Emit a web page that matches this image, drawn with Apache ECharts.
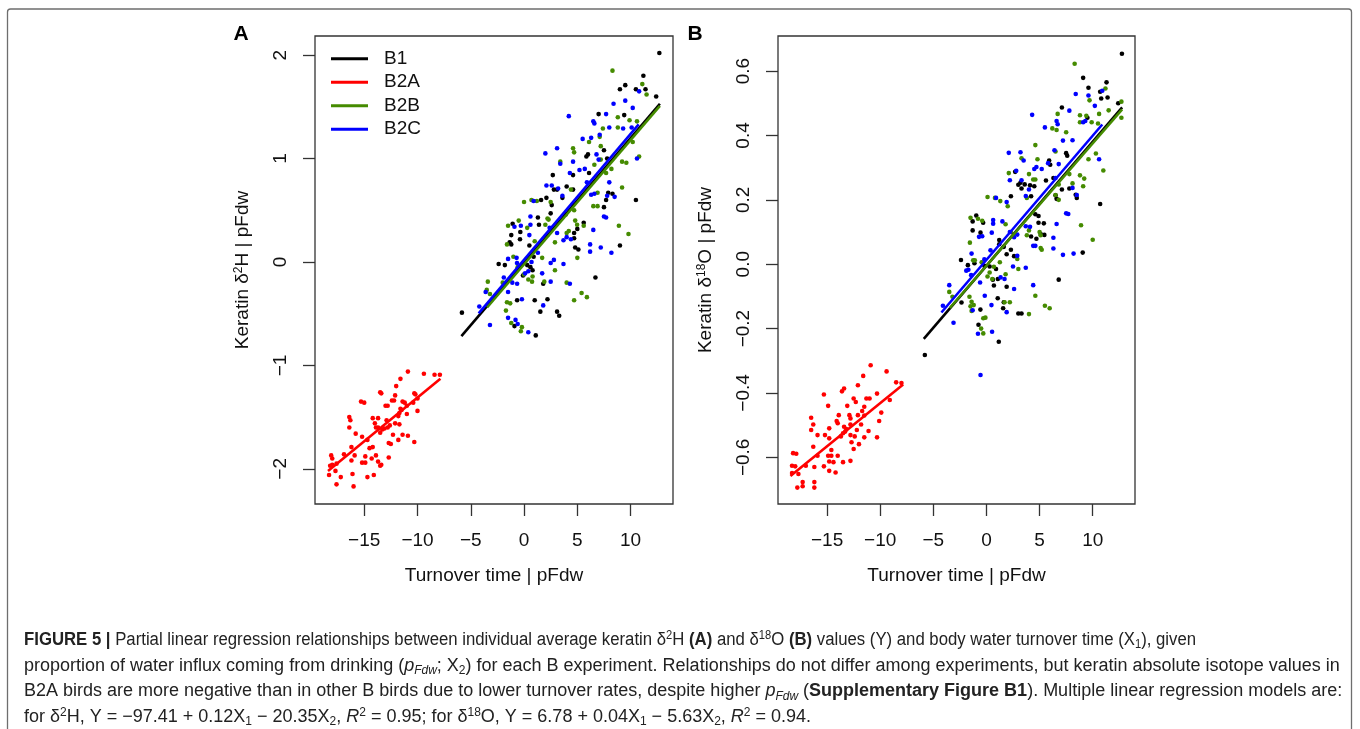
<!DOCTYPE html>
<html>
<head>
<meta charset="utf-8">
<script src="https://cdn.jsdelivr.net/npm/echarts@6/dist/echarts.min.js"></script>
<style>
html,body{margin:0;padding:0;background:#fff;}
#chart{width:1360px;height:729px;}
</style>
</head>
<body>
<div id="chart"></div>
<script>
// ---------------- DATA ----------------
const GROUPS = ['B1', 'B2A', 'B2B', 'B2C'];
const X_TICKS = [-15, -10, -5, 0, 5, 10];
const A_Y_TICKS = [-2, -1, 0, 1, 2];
const B_Y_TICKS = [-0.6, -0.4, -0.2, 0, 0.2, 0.4, 0.6];
const X_RANGE = [-19.62, 13.98];
const A_Y_RANGE = [-2.34, 2.185];
const B_Y_RANGE = [-0.745, 0.709];

// Panel A: keratin d2H | pFdw vs turnover time | pFdw
const a_B1 = [[12.7,2.02],[11.2,1.80],[9.5,1.71],[9.0,1.67],[10.5,1.67],[11.4,1.67],[12.4,1.60],[9.4,1.42],[7.0,1.43],[6.0,1.04],[5.85,1.02],[7.5,1.08],[2.7,0.84],[2.8,0.70],[4.0,0.73],[4.6,0.70],[4.6,0.84],[6.1,0.86],[7.8,1.00],[7.9,0.67],[8.3,0.66],[10.5,0.60],[3.6,0.62],[3.1,0.70],
  [-5.83,-0.49],[-2.38,-0.02],[-1.07,0.37],[-1.2,0.26],[-1.35,0.19],[-1.2,0.17],[-0.35,0.29],[-0.38,0.22],[0.5,0.16],[1.3,0.43],[1.4,0.36],[0.6,-0.05],[0.8,-0.08],[-0.65,-0.37],[1.0,-0.37],[2.2,-0.36],[1.53,-0.48],[3.1,-0.48],[3.3,-0.52],[1.1,-0.71],[-0.9,-0.62],[6.7,-0.15],[9.0,0.16],[4.8,0.14],[5.1,0.12],[4.7,0.28],[4.7,0.23],[5.6,0.38],[7.5,0.53],[1.6,0.60],[2.1,0.62],[2.6,0.55],[4.6,0.55],[-1.8,-0.03],[0.3,-0.03],[0.9,0.05],[-0.1,-0.13],[1.8,-0.21],[3.9,0.46],[2.5,0.47],[5.0,0.32],[7.7,0.60]];
const a_B2A = [[-10.9,-1.06],[-9.4,-1.08],[-8.4,-1.09],[-7.9,-1.09],[-11.6,-1.13],[-12.0,-1.20],[-10.3,-1.27],[-13.5,-1.26],[-13.4,-1.27],[-15.3,-1.35],[-15.0,-1.36],[-12.4,-1.34],[-12.2,-1.34],[-12.1,-1.29],[-11.4,-1.35],[-11.2,-1.36],[-13.0,-1.39],[-12.8,-1.39],[-11.0,-1.39],[-10.4,-1.36],[-10.0,-1.32],[-10.2,-1.28],[-11.6,-1.42],[-11.5,-1.43],[-11.7,-1.46],[-11.8,-1.49],[-11.0,-1.47],[-10.0,-1.44],[-16.4,-1.50],[-16.3,-1.53],[-16.4,-1.60],[-14.2,-1.51],[-13.7,-1.51],[-14.0,-1.56],[-13.9,-1.60],[-13.7,-1.60],[-13.3,-1.62],[-13.1,-1.61],[-12.8,-1.60],[-12.6,-1.58],[-12.9,-1.53],[-12.1,-1.56],[-11.7,-1.57],[-13.5,-1.65],[-11.4,-1.67],[-10.9,-1.68],[-12.3,-1.67],[-12.7,-1.75],[-12.5,-1.76],[-11.8,-1.72],[-10.3,-1.74],[-15.8,-1.66],[-15.2,-1.69],[-14.7,-1.72],[-14.5,-1.80],[-14.2,-1.79],[-16.2,-1.79],[-16.9,-1.86],[-15.9,-1.87],[-14.9,-1.88],[-13.9,-1.87],[-12.7,-1.89],[-14.3,-1.90],[-18.1,-1.87],[-18.0,-1.90],[-18.2,-1.97],[-18.0,-1.96],[-17.6,-1.95],[-15.2,-1.94],[-14.9,-1.94],[-13.7,-1.93],[-13.5,-1.97],[-13.4,-1.96],[-16.2,-1.92],[-17.7,-2.02],[-17.2,-2.08],[-18.3,-2.06],[-16.1,-2.05],[-14.7,-2.08],[-14.1,-2.06],[-17.6,-2.15],[-16.0,-2.17]];
const a_B2B = [[8.3,1.85],[11.1,1.72],[11.5,1.62],[10.6,1.36],[9.9,1.37],[8.8,1.40],[8.8,1.30],[7.4,1.29],[7.1,1.21],[6.1,1.16],[7.2,1.12],[10.2,1.16],[10.8,1.02],[9.2,0.97],[9.6,0.96],[4.6,1.10],[4.7,1.06],[6.6,0.94],[7.2,0.99],[3.4,0.97],[9.2,0.72],[6.9,0.67],[0.0,0.58],[0.7,0.60],[1.2,0.59],[2.5,0.58],[4.4,0.70],[7.7,0.86],[8.2,0.90],
  [-3.4,-0.19],[-3.5,-0.27],[-3.2,-0.31],[-1.6,-0.39],[-1.3,-0.40],[-1.7,-0.47],[-1.2,-0.59],[-0.2,-0.63],[-0.3,-0.67],[-1.0,0.05],[-1.5,0.35],[-1.6,0.17],[-0.5,0.40],[0.75,-0.19],[0.8,-0.14],[0.4,-0.17],[1.7,0.04],[1.9,-0.19],[2.9,-0.08],[4.0,-0.20],[4.7,-0.37],[5.4,-0.30],[5.9,-0.34],[5.0,0.04],[2.2,0.42],[2.3,0.41],[2.0,0.36],[2.9,0.19],[4.0,0.28],[4.2,0.30],[4.7,0.50],[4.8,0.40],[4.98,0.36],[5.6,0.35],[6.5,0.54],[6.9,0.54],[8.9,0.35],[9.8,0.27],[-0.6,-0.05],[0.0,-0.12],[-2.0,-0.20],[0.3,0.33],[1.0,0.20]];
const a_B2C = [[10.8,1.65],[8.4,1.53],[9.5,1.56],[10.2,1.49],[7.7,1.43],[6.5,1.36],[6.6,1.34],[4.2,1.41],[8.0,1.30],[9.3,1.29],[10.1,1.30],[7.1,1.23],[6.3,1.20],[5.5,1.19],[6.8,1.04],[3.1,1.10],[2.0,1.05],[3.4,0.95],[4.6,0.97],[4.3,0.86],[5.2,0.89],[5.7,0.90],[2.6,0.74],[2.1,0.74],[3.2,0.71],[3.6,0.64],[6.3,0.65],[6.6,0.66],[7.8,0.64],[8.5,0.63],[10.6,1.00],[8.0,0.77],[5.9,0.77],[7.0,0.99],[0.9,0.59],
  [-4.2,-0.43],[-3.6,-0.29],[-3.2,-0.61],[-1.9,-0.15],[-1.5,0.03],[-0.7,0.04],[-0.66,-0.01],[-1.1,-0.20],[-1.5,-0.29],[-1.5,-0.54],[-0.8,-0.56],[-0.6,-0.60],[0.4,-0.68],[-0.2,-0.36],[-0.65,-0.21],[0.1,-0.11],[0.4,-0.09],[0.7,0.00],[-0.3,0.35],[-0.9,0.34],[0.6,0.36],[0.6,0.44],[0.5,0.26],[1.3,0.09],[1.7,-0.11],[1.8,-0.42],[2.5,-0.19],[2.5,-0.01],[2.8,0.02],[3.1,0.28],[3.7,-0.02],[4.3,-0.21],[3.7,0.21],[4.0,0.24],[4.4,0.22],[2.2,0.26],[2.4,0.33],[6.2,0.17],[6.2,0.10],[7.2,0.14],[8.2,0.09],[7.5,0.44],[7.7,0.43],[6.5,0.31]];
// regression segments [x1, y1, x2, y2]
const a_fit_B1 = [-5.88, -0.717, 12.75, 1.53];
const a_fit_B2A = [-18.4, -2.02, -7.85, -1.13];
const a_fit_B2B = [-3.47, -0.44, 12.75, 1.51];
const a_fit_B2C = [-4.26, -0.497, 10.76, 1.33];

// Panel B: keratin d18O | pFdw vs turnover time | pFdw
const b_B1 = [[12.75,0.654],[9.1,0.579],[11.3,0.565],[9.6,0.548],[10.7,0.536],[10.8,0.515],[11.4,0.518],[12.4,0.500],[7.1,0.487],[9.5,0.455],[7.5,0.345],[7.6,0.337],[5.9,0.322],[6.0,0.309],[2.7,0.287],[3.2,0.253],[3.0,0.247],[3.6,0.248],[3.3,0.235],[4.1,0.245],[4.5,0.242],[5.6,0.260],[6.3,0.268],[7.1,0.232],[7.8,0.235],[8.4,0.216],[8.5,0.206],[10.7,0.187],[2.3,0.211],[4.2,0.211],[6.5,0.214],[6.6,0.203],
  [-0.96,0.151],[-1.3,0.133],[-0.31,0.129],[-1.3,0.105],[-0.56,0.098],[1.2,0.075],[1.2,0.062],[1.63,0.054],[1.9,0.031],[2.3,0.045],[2.6,0.025],[-2.4,0.013],[-1.75,-0.003],[-1.13,0.003],[0.3,-0.007],[0.9,-0.015],[-0.2,-0.005],[1.07,-0.046],[0.6,-0.048],[0.7,-0.066],[-0.57,-0.141],[1.06,-0.106],[1.63,-0.118],[1.57,-0.137],[1.9,-0.070],[3.0,-0.153],[3.3,-0.153],[-0.75,-0.188],[-2.35,-0.119],[6.8,-0.048],[9.06,0.036],[4.9,0.129],[4.6,0.155],[4.9,0.150],[5.4,0.127],[5.45,0.091],[5.1,0.094],[4.2,0.086],[4.7,0.079],[-5.8,-0.282],[1.16,-0.241]];
const b_B2A = [[-10.9,-0.314],[-9.4,-0.333],[-11.6,-0.347],[-8.5,-0.367],[-8.0,-0.369],[-13.4,-0.386],[-13.6,-0.395],[-12.1,-0.376],[-15.3,-0.405],[-11.3,-0.417],[-11.0,-0.417],[-12.5,-0.417],[-12.3,-0.428],[-10.3,-0.402],[-9.1,-0.422],[-13.1,-0.440],[-14.9,-0.440],[-13.9,-0.469],[-11.5,-0.443],[-11.7,-0.456],[-12.1,-0.469],[-9.9,-0.461],[-10.1,-0.487],[-14.1,-0.487],[-14.0,-0.494],[-12.9,-0.469],[-12.8,-0.479],[-16.5,-0.477],[-16.3,-0.498],[-16.5,-0.515],[-14.8,-0.510],[-13.4,-0.505],[-13.3,-0.520],[-13.2,-0.512],[-13.5,-0.525],[-13.7,-0.535],[-12.8,-0.498],[-12.8,-0.531],[-12.7,-0.553],[-12.4,-0.535],[-12.5,-0.574],[-12.2,-0.515],[-11.8,-0.498],[-11.5,-0.470],[-11.1,-0.518],[-11.5,-0.538],[-12.0,-0.559],[-10.3,-0.538],[-15.9,-0.531],[-15.2,-0.531],[-14.8,-0.541],[-14.6,-0.577],[-16.3,-0.567],[-15.9,-0.595],[-14.9,-0.595],[-14.6,-0.595],[-14.0,-0.595],[-14.8,-0.613],[-14.4,-0.615],[-13.5,-0.615],[-12.8,-0.611],[-15.3,-0.628],[-14.8,-0.642],[-14.2,-0.647],[-16.2,-0.630],[-17.0,-0.626],[-18.2,-0.587],[-17.9,-0.589],[-18.3,-0.626],[-17.7,-0.652],[-18.3,-0.649],[-17.8,-0.694],[-17.3,-0.690],[-17.3,-0.677],[-16.2,-0.677],[-16.2,-0.694],[-18.0,-0.628]];
const b_B2B = [[8.3,0.623],[11.2,0.546],[9.7,0.509],[12.7,0.505],[12.7,0.455],[11.5,0.478],[10.6,0.467],[9.4,0.461],[8.8,0.441],[9.9,0.441],[10.5,0.437],[8.8,0.463],[6.7,0.467],[6.2,0.422],[6.6,0.417],[7.5,0.410],[4.6,0.370],[6.5,0.350],[10.3,0.344],[9.6,0.326],[11.0,0.291],[4.8,0.326],[3.3,0.329],[4.0,0.280],[2.1,0.283],[4.4,0.263],[4.6,0.263],[8.8,0.276],[9.2,0.266],[9.1,0.242],[8.1,0.251],[6.8,0.248],[7.8,0.280],[0.1,0.209],[0.8,0.206],[1.3,0.196],[3.8,0.206],[6.8,0.200],[6.5,0.215],
  [-1.5,0.144],[-0.8,0.141],[-1.56,0.067],[-1.1,0.012],[-1.25,0.012],[-0.45,0.006],[-3.5,-0.086],[-3.2,-0.101],[-1.6,-0.101],[-1.4,-0.117],[-1.2,-0.127],[-1.5,-0.131],[-1.4,-0.145],[-0.3,-0.168],[-0.5,-0.200],[-0.3,-0.215],[-0.1,-0.166],[0.3,-0.026],[0.55,-0.046],[0.1,-0.038],[0.7,-0.008],[1.26,0.006],[1.7,-0.118],[2.2,-0.118],[2.9,0.016],[1.8,-0.031],[3.0,-0.015],[4.0,-0.155],[4.6,-0.098],[5.5,-0.129],[5.95,-0.137],[8.9,0.121],[10.0,0.076],[5.0,0.100],[5.1,0.090],[5.2,0.045],[5.1,0.050],[3.8,0.090],[4.0,0.105],[2.3,0.100],[1.8,0.124],[-0.4,0.135],[2.0,0.180]];
const b_B2C = [[10.9,0.539],[9.6,0.524],[8.4,0.529],[10.2,0.492],[7.8,0.477],[4.3,0.464],[9.1,0.441],[9.3,0.445],[6.6,0.445],[6.7,0.435],[5.5,0.425],[7.2,0.384],[8.1,0.385],[2.1,0.346],[3.2,0.348],[3.5,0.322],[6.4,0.354],[10.6,0.326],[4.7,0.302],[4.5,0.296],[5.2,0.296],[5.8,0.314],[6.5,0.268],[2.2,0.261],[3.3,0.261],[4.0,0.232],[6.8,0.311],[8.1,0.237],[8.5,0.215],[0.9,0.206],[1.9,0.193],[3.7,0.212],[2.8,0.290],
  [-4.1,-0.129],[-3.5,-0.065],[-3.1,-0.182],[-1.44,-0.034],[-1.9,-0.020],[-1.7,-0.017],[-0.7,0.085],[-0.4,0.087],[0.63,0.137],[0.63,0.126],[0.5,0.098],[1.5,0.133],[0.38,0.043],[-1.4,0.033],[-0.2,0.015],[-0.6,-0.057],[-0.16,-0.098],[0.47,-0.127],[-1.3,-0.143],[-0.8,-0.216],[1.9,-0.149],[1.33,-0.041],[1.7,-0.046],[2.6,-0.077],[2.5,-0.007],[3.7,-0.011],[2.9,0.026],[4.4,-0.065],[2.6,0.084],[2.9,0.092],[3.7,0.118],[4.1,0.116],[4.4,0.057],[4.6,0.057],[6.3,0.082],[6.3,0.049],[7.2,0.029],[8.2,0.033],[6.6,0.125],[7.5,0.158],[7.7,0.156],[2.2,0.100],[-0.56,-0.344],[0.53,-0.210]];
const b_fit_B1 = [-5.9, -0.232, 12.77, 0.487];
const b_fit_B2A = [-18.45, -0.658, -7.84, -0.374];
const b_fit_B2B = [-3.45, -0.136, 12.77, 0.481];
const b_fit_B2C = [-4.24, -0.150, 10.9, 0.434];

const X_NAME = 'Turnover time | pFdw';
const A_Y_NAME = 'Keratin δ{sup|2}H | pFdw';
const B_Y_NAME = 'Keratin δ{sup|18}O | pFdw';
const CAPTION = [
  '{b|FIGURE 5 |} Partial linear regression relationships between individual average keratin δ{sup|2}H {b|(A)} and δ{sup|18}O {b|(B)} values (Y) and body water turnover time (X{sub|1}), given',
  'proportion of water influx coming from drinking ({i|p}{isub|Fdw}; X{sub|2}) for each B experiment. Relationships do not differ among experiments, but keratin absolute isotope values in',
  'B2A birds are more negative than in other B birds due to lower turnover rates, despite higher {i|p}{isub|Fdw} ({b|Supplementary Figure B1}). Multiple linear regression models are:',
  'for δ{sup|2}H, Y = −97.41 + 0.12X{sub|1} − 20.35X{sub|2}, {i|R}{sup|2} = 0.95; for δ{sup|18}O, Y = 6.78 + 0.04X{sub|1} − 5.63X{sub|2}, {i|R}{sup|2} = 0.94.'
];

// ---------------- STYLE / BUILD ----------------
const COLORS = {B1: '#000000', B2A: '#ff0000', B2B: '#458b00', B2C: '#0000ff'};
const FONT = '"Liberation Sans", Arial, Helvetica, sans-serif';
const POINTS = [{B1: a_B1, B2A: a_B2A, B2B: a_B2B, B2C: a_B2C}, {B1: b_B1, B2A: b_B2A, B2B: b_B2B, B2C: b_B2C}];
const FITS = [{B1: a_fit_B1, B2A: a_fit_B2A, B2B: a_fit_B2B, B2C: a_fit_B2C}, {B1: b_fit_B1, B2A: b_fit_B2A, B2B: b_fit_B2B, B2C: b_fit_B2C}];

function fmtNum(v, dec) {
  const s = Math.abs(v).toFixed(dec);
  return (v < 0 ? '\u2212' : '') + s;
}
const series = [];
for (let p = 0; p < 2; p++) {
  GROUPS.forEach(g => {
    series.push({
      type: 'scatter', name: g, data: POINTS[p][g], xAxisIndex: p, yAxisIndex: p,
      symbol: 'circle', symbolSize: 4.6, itemStyle: {color: COLORS[g], opacity: 1}, z: 2, silent: true
    });
  });
}
for (let p = 0; p < 2; p++) {
  GROUPS.forEach(g => {
    const s = FITS[p][g];
    series.push({
      type: 'line', name: g, data: [[s[0], s[1]], [s[2], s[3]]], xAxisIndex: p, yAxisIndex: p,
      showSymbol: false, symbol: 'none', lineStyle: {color: COLORS[g], width: 2.6}, itemStyle: {color: COLORS[g]},
      z: 3, silent: true
    });
  });
}

const supRich = {
  sup: {fontSize: 12, fontFamily: FONT, verticalAlign: 'top', lineHeight: 12}
};

function xAxis(idx) {
  return {
    type: 'value', gridIndex: idx, min: X_RANGE[0], max: X_RANGE[1], position: 'bottom',
    axisLine: {show: false, onZero: false}, splitLine: {show: false},
    axisTick: {show: true, customValues: X_TICKS, length: 12, lineStyle: {color: '#333', width: 1.3}},
    axisLabel: {customValues: X_TICKS, formatter: v => fmtNum(v, 0), fontSize: 19, fontFamily: FONT, color: '#111', margin: 27},
    name: X_NAME, nameLocation: 'middle', nameGap: 62,
    nameTextStyle: {fontSize: 19, fontFamily: FONT, color: '#111'}
  };
}
function yAxis(idx, range, ticks, dec, name) {
  return {
    type: 'value', gridIndex: idx, min: range[0], max: range[1], position: 'left',
    axisLine: {show: false, onZero: false}, splitLine: {show: false},
    axisTick: {show: true, customValues: ticks, length: 12, lineStyle: {color: '#333', width: 1.3}},
    axisLabel: {customValues: ticks, formatter: v => fmtNum(v, dec), rotate: 90, fontSize: 19, fontFamily: FONT, color: '#111', margin: 25},
    name: name, nameLocation: 'middle', nameGap: 63, nameRotate: 90,
    nameTextStyle: {fontSize: 19, fontFamily: FONT, color: '#111', rich: supRich}
  };
}

const capRich = {
  b: {fontSize: 18, fontFamily: FONT, fontWeight: 'bold', color: '#222', lineHeight: 22, verticalAlign: 'middle'},
  i: {fontSize: 18, fontFamily: FONT, fontStyle: 'italic', color: '#222', lineHeight: 22, verticalAlign: 'middle'},
  sup: {fontSize: 12, fontFamily: FONT, color: '#222', lineHeight: 13, verticalAlign: 'top', padding: [1, 0, 0, 0]},
  sub: {fontSize: 12, fontFamily: FONT, color: '#222', lineHeight: 13, verticalAlign: 'bottom'},
  isub: {fontSize: 12, fontFamily: FONT, fontStyle: 'italic', color: '#222', lineHeight: 13, verticalAlign: 'bottom'}
};
const CAP_Y = [640, 665.7, 691.3, 717];
const CAP_SCALE = [0.93, 1, 1, 1];
const graphics = [
  {type: 'rect', shape: {x: 7.5, y: 9, width: 1344, height: 760, r: 3}, style: {fill: 'none', stroke: '#6e6e6e', lineWidth: 1.3}, silent: true},
  {type: 'text', x: 241, y: 34, style: {text: 'A', fontSize: 21, fontWeight: 'bold', fontFamily: FONT, fill: '#000', align: 'center', verticalAlign: 'middle'}},
  {type: 'text', x: 695, y: 34, style: {text: 'B', fontSize: 21, fontWeight: 'bold', fontFamily: FONT, fill: '#000', align: 'center', verticalAlign: 'middle'}}
];
CAPTION.forEach((line, i) => {
  graphics.push({
    type: 'text', x: 24, y: CAP_Y[i], scaleX: CAP_SCALE[i],
    style: {text: line, fontSize: 18, fontFamily: FONT, fill: '#222', lineHeight: 22, align: 'left', verticalAlign: 'middle', rich: capRich}
  });
});

const option = {
  animation: false,
  backgroundColor: '#ffffff',
  grid: [
    {left: 315, top: 36, width: 358, height: 468, show: true, borderColor: '#333', borderWidth: 1.3, backgroundColor: 'transparent'},
    {left: 778, top: 36, width: 357, height: 468, show: true, borderColor: '#333', borderWidth: 1.3, backgroundColor: 'transparent'}
  ],
  xAxis: [xAxis(0), xAxis(1)],
  yAxis: [yAxis(0, A_Y_RANGE, A_Y_TICKS, 0, A_Y_NAME), yAxis(1, B_Y_RANGE, B_Y_TICKS, 1, B_Y_NAME)],
  legend: {
    data: GROUPS, orient: 'vertical', left: 331, top: 49, padding: 0,
    icon: 'rect', itemWidth: 37, itemHeight: 3, itemGap: 4, selectedMode: false,
    textStyle: {fontSize: 19, fontFamily: FONT, color: '#111', lineHeight: 19.5, padding: [0, 0, 0, 11]}
  },
  graphic: graphics,
  series: series
};
const chart = echarts.init(document.getElementById('chart'), null, {renderer: 'canvas'});
chart.setOption(option);
</script>
</body>
</html>
